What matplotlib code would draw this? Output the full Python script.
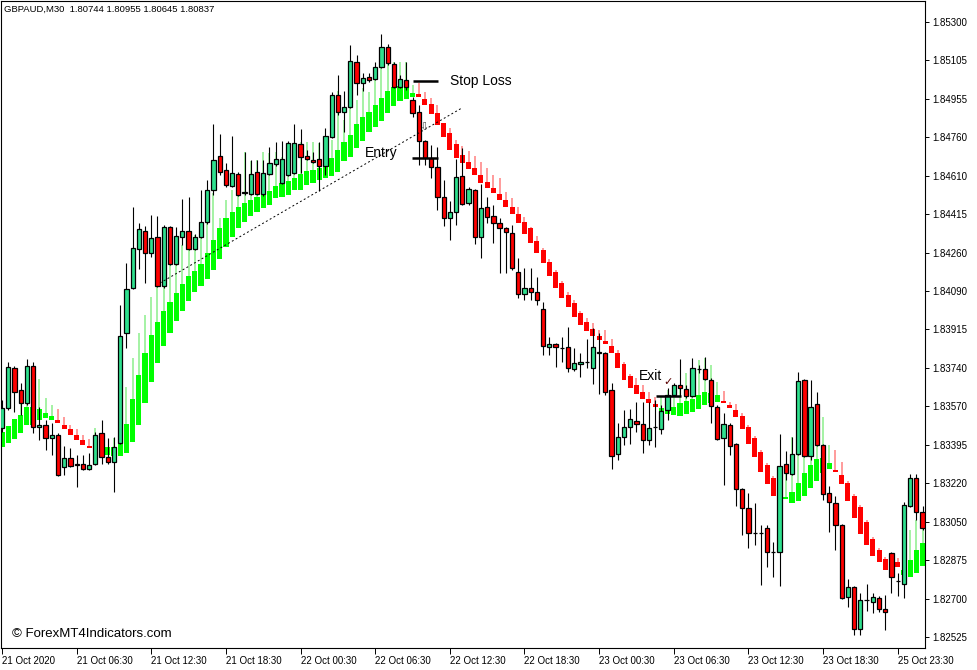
import numpy as np
import matplotlib
matplotlib.use("Agg")
import matplotlib.pyplot as plt

# GBPAUD M30 candles, bar index 0..148
opens = [1.83468, 1.83558, 1.83739, 1.83639, 1.83581, 1.83748, 1.83472, 1.83481, 1.83423, 1.83436,
         1.83292, 1.83333, 1.83306, 1.83306, 1.83283, 1.83306, 1.83445, 1.83337, 1.83315, 1.83400,
         1.83897, 1.84100, 1.84275, 1.84357, 1.84257, 1.84330, 1.84109, 1.84375, 1.84208, 1.84330,
         1.84357, 1.84275, 1.84330, 1.84397, 1.84542, 1.84695, 1.84632, 1.84560, 1.84614, 1.84528,
         1.84524, 1.84623, 1.84524, 1.84614, 1.84659, 1.84573, 1.84609, 1.84618, 1.84749, 1.84695,
         1.84677, 1.84681, 1.84650, 1.84780, 1.84970, 1.84894, 1.84916, 1.85119, 1.85025, 1.85051,
         1.85042, 1.85096, 1.85187, 1.85110, 1.85006, 1.85038, 1.84948, 1.84894, 1.84763, 1.84686,
         1.84645, 1.84510, 1.84416, 1.84443, 1.84605, 1.84483, 1.84542, 1.84330, 1.84465, 1.84425,
         1.84393, 1.84370, 1.84348, 1.84172, 1.84073, 1.84100, 1.84082, 1.84005, 1.83833, 1.83847,
         1.83829, 1.83833, 1.83734, 1.83757, 1.83766, 1.83739, 1.83806, 1.83806, 1.83639, 1.83351,
         1.83427, 1.83472, 1.83499, 1.83486, 1.83414, 1.83472, 1.83463, 1.83549, 1.83617, 1.83662,
         1.83644, 1.83612, 1.83734, 1.83734, 1.83684, 1.83563, 1.83423, 1.83481, 1.83396, 1.83193,
         1.83107, 1.82994, 1.82994, 1.83017, 1.82908, 1.82908, 1.83306, 1.83260, 1.83351, 1.83684,
         1.83342, 1.83576, 1.83391, 1.83174, 1.83130, 1.83030, 1.82705, 1.82750, 1.82561, 1.82692,
         1.82683, 1.82701, 1.82651, 1.82904, 1.82777, 1.82764, 1.83116, 1.83242, 1.83089]
highs = [1.83594, 1.83766, 1.83748, 1.83671, 1.83779, 1.83766, 1.83563, 1.83504, 1.83490, 1.83445,
         1.83387, 1.83378, 1.83346, 1.83346, 1.83355, 1.83450, 1.83504, 1.83423, 1.83427, 1.84023,
         1.84212, 1.84465, 1.84393, 1.84379, 1.84429, 1.84425, 1.84384, 1.84379, 1.84375, 1.84501,
         1.84510, 1.84343, 1.84542, 1.84587, 1.84840, 1.84794, 1.84664, 1.84785, 1.84623, 1.84713,
         1.84677, 1.84677, 1.84677, 1.84736, 1.84758, 1.84763, 1.84763, 1.84840, 1.84817, 1.84722,
         1.84713, 1.84758, 1.84822, 1.84984, 1.85060, 1.84988, 1.85196, 1.85151, 1.85070, 1.85070,
         1.85119, 1.85246, 1.85201, 1.85119, 1.85060, 1.85119, 1.84961, 1.84925, 1.84767, 1.84745,
         1.84736, 1.84587, 1.84492, 1.84681, 1.84731, 1.84555, 1.84546, 1.84569, 1.84510, 1.84474,
         1.84416, 1.84375, 1.84384, 1.84235, 1.84190, 1.84190, 1.84149, 1.84036, 1.83878, 1.83851,
         1.83878, 1.83923, 1.83829, 1.83806, 1.83869, 1.83919, 1.83896, 1.83811, 1.83671, 1.83490,
         1.83549, 1.83554, 1.83585, 1.83585, 1.83585, 1.83594, 1.83572, 1.83648, 1.83671, 1.83779,
         1.83662, 1.83784, 1.83752, 1.83788, 1.83694, 1.83572, 1.83535, 1.83490, 1.83400, 1.83197,
         1.83175, 1.83129, 1.83030, 1.83030, 1.82953, 1.83441, 1.83364, 1.83427, 1.83721, 1.83689,
         1.83684, 1.83630, 1.83396, 1.83206, 1.83161, 1.83035, 1.82787, 1.82755, 1.82723, 1.82764,
         1.82723, 1.82710, 1.82714, 1.82908, 1.82814, 1.83134, 1.83260, 1.83260, 1.83116]
lows = [1.83450, 1.83549, 1.83540, 1.83526, 1.83572, 1.83445, 1.83414, 1.83369, 1.83346, 1.83251,
        1.83256, 1.83292, 1.83202, 1.83278, 1.83278, 1.83301, 1.83306, 1.83306, 1.83179, 1.83396,
        1.83829, 1.84095, 1.84185, 1.84122, 1.84239, 1.84104, 1.84100, 1.84203, 1.84203, 1.84294,
        1.84271, 1.84271, 1.84325, 1.84388, 1.84519, 1.84609, 1.84555, 1.84555, 1.84515, 1.84519,
        1.84519, 1.84519, 1.84515, 1.84609, 1.84650, 1.84569, 1.84605, 1.84614, 1.84618, 1.84677,
        1.84664, 1.84537, 1.84609, 1.84776, 1.84880, 1.84803, 1.84912, 1.84970, 1.84988, 1.85029,
        1.85038, 1.85092, 1.85105, 1.85002, 1.85002, 1.84993, 1.84871, 1.84654, 1.84654, 1.84596,
        1.84452, 1.84379, 1.84316, 1.84384, 1.84474, 1.84474, 1.84298, 1.84235, 1.84393, 1.84303,
        1.84167, 1.84167, 1.84181, 1.84055, 1.84045, 1.84045, 1.84023, 1.83797, 1.83797, 1.83743,
        1.83766, 1.83721, 1.83725, 1.83698, 1.83739, 1.83666, 1.83621, 1.83617, 1.83283, 1.83324,
        1.83391, 1.83396, 1.83450, 1.83355, 1.83391, 1.83382, 1.83441, 1.83504, 1.83612, 1.83612,
        1.83603, 1.83608, 1.83716, 1.83684, 1.83490, 1.83414, 1.83211, 1.83346, 1.83116, 1.82985,
        1.82926, 1.82940, 1.82759, 1.82840, 1.82795, 1.82755, 1.83233, 1.83256, 1.83346, 1.83337,
        1.83324, 1.83387, 1.83143, 1.82999, 1.82917, 1.82696, 1.82660, 1.82534, 1.82534, 1.82642,
        1.82633, 1.82638, 1.82556, 1.82723, 1.82710, 1.82701, 1.83111, 1.83053, 1.83008]
closes = [1.83558, 1.83743, 1.83630, 1.83581, 1.83748, 1.83472, 1.83481, 1.83423, 1.83436, 1.83256,
          1.83333, 1.83297, 1.83301, 1.83283, 1.83301, 1.83436, 1.83337, 1.83315, 1.83382, 1.83883,
          1.84095, 1.84280, 1.84366, 1.84257, 1.84325, 1.84109, 1.84375, 1.84208, 1.84334, 1.84357,
          1.84275, 1.84330, 1.84397, 1.84542, 1.84677, 1.84623, 1.84564, 1.84618, 1.84519, 1.84533,
          1.84614, 1.84524, 1.84618, 1.84664, 1.84681, 1.84681, 1.84754, 1.84754, 1.84690, 1.84681,
          1.84668, 1.84650, 1.84785, 1.84970, 1.84894, 1.84916, 1.85124, 1.85025, 1.85047, 1.85038,
          1.85096, 1.85187, 1.85115, 1.85006, 1.85042, 1.85006, 1.84889, 1.84763, 1.84686, 1.84645,
          1.84510, 1.84416, 1.84443, 1.84600, 1.84479, 1.84546, 1.84330, 1.84461, 1.84420, 1.84393,
          1.84370, 1.84352, 1.84190, 1.84073, 1.84100, 1.84082, 1.84045, 1.83838, 1.83847, 1.83833,
          1.83829, 1.83739, 1.83761, 1.83766, 1.83766, 1.83833, 1.83811, 1.83630, 1.83342, 1.83427,
          1.83472, 1.83508, 1.83486, 1.83414, 1.83468, 1.83472, 1.83545, 1.83617, 1.83662, 1.83648,
          1.83612, 1.83739, 1.83734, 1.83689, 1.83567, 1.83418, 1.83486, 1.83387, 1.83193, 1.83107,
          1.82994, 1.82994, 1.82994, 1.82908, 1.82908, 1.83297, 1.83265, 1.83351, 1.83680, 1.83342,
          1.83563, 1.83391, 1.83170, 1.83134, 1.83030, 1.82701, 1.82750, 1.82561, 1.82692, 1.82692,
          1.82705, 1.82651, 1.82638, 1.82795, 1.82777, 1.83120, 1.83242, 1.83089, 1.83017]

# smoothed trend bars (body top / body bottom / wick top) and their colour
ind_top = [1.83450, 1.83477, 1.83508, 1.83526, 1.83563, 1.83563, 1.83553, 1.83535, 1.83522, 1.83504,
           1.83481, 1.83463, 1.83436, 1.83414, 1.83387, 1.83378, 1.83382, 1.83382, 1.83382, 1.83400,
           1.83486, 1.83599, 1.83707, 1.83806, 1.83887, 1.83946, 1.83996, 1.84036, 1.84077, 1.84118,
           1.84154, 1.84176, 1.84208, 1.84257, 1.84316, 1.84370, 1.84416, 1.84443, 1.84465, 1.84483,
           1.84497, 1.84510, 1.84528, 1.84537, 1.84560, 1.84573, 1.84582, 1.84596, 1.84614, 1.84627,
           1.84632, 1.84641, 1.84650, 1.84686, 1.84722, 1.84758, 1.84790, 1.84840, 1.84871, 1.84894,
           1.84925, 1.84957, 1.84988, 1.85006, 1.85011, 1.85015, 1.84979, 1.84975, 1.84952, 1.84930,
           1.84889, 1.84844, 1.84799, 1.84749, 1.84700, 1.84668, 1.84641, 1.84609, 1.84578, 1.84551,
           1.84524, 1.84497, 1.84465, 1.84434, 1.84397, 1.84370, 1.84312, 1.84271, 1.84217, 1.84172,
           1.84122, 1.84068, 1.84032, 1.83987, 1.83946, 1.83914, 1.83883, 1.83860, 1.83838, 1.83806,
           1.83757, 1.83703, 1.83662, 1.83630, 1.83599, 1.83576, 1.83558, 1.83563, 1.83563, 1.83581,
           1.83590, 1.83599, 1.83617, 1.83630, 1.83626, 1.83617, 1.83590, 1.83572, 1.83549, 1.83522,
           1.83472, 1.83423, 1.83360, 1.83301, 1.83242, 1.83188, 1.83157, 1.83179, 1.83220, 1.83265,
           1.83301, 1.83328, 1.83333, 1.83310, 1.83278, 1.83256, 1.83220, 1.83161, 1.83111, 1.83044,
           1.82967, 1.82917, 1.82877, 1.82872, 1.82863, 1.82827, 1.82872, 1.82917, 1.82949]
ind_bot = [1.83382, 1.83400, 1.83418, 1.83445, 1.83481, 1.83481, 1.83504, 1.83513, 1.83504, 1.83490,
           1.83463, 1.83436, 1.83414, 1.83391, 1.83378, 1.83364, 1.83346, 1.83346, 1.83342, 1.83342,
           1.83355, 1.83405, 1.83481, 1.83581, 1.83675, 1.83761, 1.83838, 1.83897, 1.83951, 1.83996,
           1.84041, 1.84082, 1.84109, 1.84140, 1.84181, 1.84230, 1.84284, 1.84330, 1.84370, 1.84397,
           1.84425, 1.84443, 1.84461, 1.84474, 1.84506, 1.84510, 1.84519, 1.84542, 1.84542, 1.84564,
           1.84573, 1.84587, 1.84596, 1.84605, 1.84623, 1.84673, 1.84690, 1.84731, 1.84763, 1.84803,
           1.84826, 1.84853, 1.84889, 1.84921, 1.84943, 1.84952, 1.84961, 1.84961, 1.84925, 1.84885,
           1.84835, 1.84780, 1.84722, 1.84686, 1.84664, 1.84636, 1.84609, 1.84573, 1.84551, 1.84528,
           1.84497, 1.84465, 1.84434, 1.84393, 1.84343, 1.84303, 1.84257, 1.84212, 1.84154, 1.84100,
           1.84055, 1.84014, 1.83969, 1.83933, 1.83906, 1.83883, 1.83865, 1.83847, 1.83806, 1.83739,
           1.83684, 1.83648, 1.83621, 1.83599, 1.83581, 1.83563, 1.83535, 1.83531, 1.83526, 1.83522,
           1.83531, 1.83540, 1.83553, 1.83572, 1.83581, 1.83585, 1.83581, 1.83558, 1.83517, 1.83463,
           1.83396, 1.83337, 1.83269, 1.83215, 1.83161, 1.83143, 1.83148, 1.83130, 1.83139, 1.83161,
           1.83197, 1.83229, 1.83265, 1.83283, 1.83269, 1.83215, 1.83139, 1.83062, 1.82990, 1.82940,
           1.82890, 1.82863, 1.82827, 1.82845, 1.82840, 1.82805, 1.82795, 1.82814, 1.82845]
ind_wick = [1.83585, 1.83477, 1.83508, 1.83585, 1.83594, 1.83689, 1.83689, 1.83603, 1.83572, 1.83553,
            1.83517, 1.83481, 1.83463, 1.83436, 1.83418, 1.83468, 1.83382, 1.83382, 1.83423, 1.83400,
            1.83653, 1.83784, 1.83896, 1.83978, 1.84059, 1.84122, 1.84316, 1.84208, 1.84203, 1.84294,
            1.84275, 1.84339, 1.84330, 1.84397, 1.84528, 1.84416, 1.84497, 1.84542, 1.84542, 1.84713,
            1.84673, 1.84677, 1.84713, 1.84709, 1.84713, 1.84690, 1.84713, 1.84713, 1.84758, 1.84758,
            1.84758, 1.84754, 1.84722, 1.84767, 1.84988, 1.84858, 1.84988, 1.84948, 1.85002, 1.84984,
            1.85047, 1.85092, 1.85119, 1.85119, 1.85119, 1.85119, 1.85015, 1.85025, 1.84984, 1.84957,
            1.84925, 1.84822, 1.84822, 1.84767, 1.84740, 1.84718, 1.84695, 1.84668, 1.84641, 1.84609,
            1.84596, 1.84533, 1.84506, 1.84465, 1.84420, 1.84375, 1.84334, 1.84280, 1.84230, 1.84181,
            1.84131, 1.84082, 1.84045, 1.83996, 1.83964, 1.83942, 1.83910, 1.83910, 1.83869, 1.83820,
            1.83766, 1.83712, 1.83694, 1.83662, 1.83630, 1.83608, 1.83608, 1.83639, 1.83639, 1.83648,
            1.83716, 1.83730, 1.83775, 1.83784, 1.83752, 1.83675, 1.83635, 1.83585, 1.83576, 1.83535,
            1.83481, 1.83432, 1.83369, 1.83310, 1.83251, 1.83197, 1.83278, 1.83427, 1.83414, 1.83445,
            1.83414, 1.83526, 1.83517, 1.83391, 1.83369, 1.83315, 1.83229, 1.83170, 1.83120, 1.83053,
            1.82976, 1.82926, 1.82886, 1.82904, 1.82881, 1.82850, 1.83008, 1.83053, 1.83039]
ind_dir = list("GGGGGGGGG" "RRRRRR" + "G" * 52 + "R" * 39 + "G" * 10 + "R" * 10
               + "G" * 8 + "R" * 11 + "G" * 4)

# axis labels
x_tick_bars = [0, 12, 24, 36, 48, 60, 72, 84, 96, 108, 120, 132, 144]
x_tick_labels = ['21 Oct 2020', '21 Oct 06:30', '21 Oct 12:30', '21 Oct 18:30', '22 Oct 00:30',
                 '22 Oct 06:30', '22 Oct 12:30', '22 Oct 18:30', '23 Oct 00:30', '23 Oct 06:30',
                 '23 Oct 12:30', '23 Oct 18:30', '25 Oct 23:30']
y_tick_labels = ['1.85300', '1.85105', '1.84955', '1.84760', '1.84610', '1.84415', '1.84260',
                 '1.84090', '1.83915', '1.83740', '1.83570', '1.83395', '1.83220', '1.83050',
                 '1.82875', '1.82700', '1.82525']

# trade annotations
trend_x = [25.4, 73.95]
trend_y = [1.84122, 1.84912]
stop_price, stop_span = 1.85033, [66.1, 70.1]
entry_price, entry_span = 1.84686, [65.9, 70.1]
exit_price, exit_span = 1.83612, [105.1, 109.2]

BULL = '#2fe08e'
BEAR = '#ff0000'
IND_UP, IND_UP_WICK = '#00ff00', '#8cef8c'
IND_DN, IND_DN_WICK = '#ff0000', '#ff8080'


def main():
    o = np.array(opens)
    h = np.array(highs)
    l = np.array(lows)
    c = np.array(closes)
    x = np.arange(len(o))
    it = np.array(ind_top)
    ib = np.array(ind_bot)
    iw = np.array(ind_wick)
    up = np.array([d == 'G' for d in ind_dir])

    fig = plt.figure(figsize=(9.77, 6.70), dpi=100)
    ax = fig.add_axes([1 / 977, 22 / 670, 924 / 977, 647 / 670])
    ax.set_xlim(-0.16, 148.39)
    ax.set_ylim(1.824752, 1.853945)

    # indicator wicks and bodies
    ax.vlines(x[up], ib[up], iw[up], color=IND_UP_WICK, lw=1.1, zorder=1)
    ax.vlines(x[~up], ib[~up], iw[~up], color=IND_DN_WICK, lw=1.1, zorder=1)
    ax.bar(x[up], (it - ib)[up], bottom=ib[up], width=0.84, color=IND_UP, lw=0, zorder=2)
    ax.bar(x[~up], (it - ib)[~up], bottom=ib[~up], width=0.8, color=IND_DN, lw=0, zorder=2)

    # candles
    ax.vlines(x, l, h, color='black', lw=0.8, zorder=3)
    bull = c > o
    bear = c < o
    doji = c == o
    ax.bar(x[bull], (c - o)[bull], bottom=o[bull], width=0.68, color=BULL,
           edgecolor='black', lw=0.9, zorder=4)
    ax.bar(x[bear], (o - c)[bear], bottom=c[bear], width=0.68, color=BEAR,
           edgecolor='black', lw=0.9, zorder=4)
    ax.hlines(o[doji], x[doji] - 0.34, x[doji] + 0.34, color='black', lw=0.9, zorder=4)

    # trend line and trade levels
    ax.plot(trend_x, trend_y, color='black', lw=0.7, ls=(0, (2, 2.5)), zorder=5)
    for price, span in [(stop_price, stop_span), (entry_price, entry_span), (exit_price, exit_span)]:
        ax.hlines(price, span[0], span[1], color='black', lw=1.8, zorder=6)
    txt = dict(family='Liberation Sans', fontsize=10, va='center', ha='left', zorder=7)
    ax.text(72.0, stop_price, 'Stop Loss', **txt)
    ax.text(58.4, 1.84709, 'Entry', **txt)
    ax.text(102.4, 1.83703, 'Exit', **txt)
    ax.text(107.1, 1.83675, '\u2713', fontsize=8, color='#5a0000', ha='center', va='center', zorder=7)
    ax.text(67.8, 1.84826, '\u21e9', fontsize=8, color='#555555', ha='center', va='center', zorder=7)

    # axes styling, MT4 like
    ax.yaxis.tick_right()
    ax.set_yticks(np.linspace(1.85300, 1.82525, 17))
    ax.set_yticklabels(y_tick_labels, family='Liberation Sans', fontsize=7)
    ax.set_xticks(x_tick_bars)
    ax.set_xticklabels(x_tick_labels, family='Liberation Sans', fontsize=7, ha='left')
    ax.tick_params(axis='y', length=3, width=0.7, pad=2)
    ax.tick_params(axis='x', length=4, width=0.7, pad=2)
    for s in ax.spines.values():
        s.set_linewidth(0.8)
        s.set_color('black')

    fig.text(4 / 977, 1 - 9 / 670, 'GBPAUD,M30  1.80744 1.80955 1.80645 1.80837',
             family='Liberation Sans', fontsize=6.8, va='center', ha='left')
    fig.text(12 / 977, 1 - 634 / 670, '\u00a9 ForexMT4Indicators.com',
             family='Liberation Sans', fontsize=9.5, va='center', ha='left')

    fig.savefig('out.png', dpi=100)


if __name__ == "__main__":
    main()
